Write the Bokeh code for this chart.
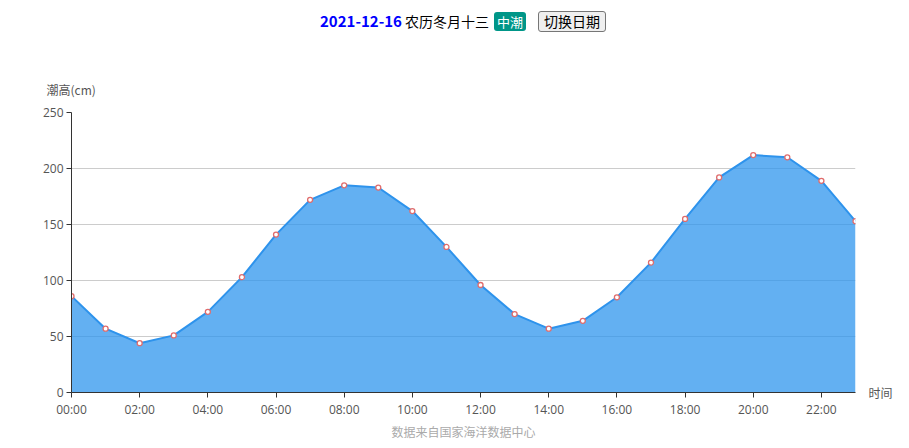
from bokeh.plotting import figure
from bokeh.models import FixedTicker, ColumnDataSource, Range1d, Title, LinearAxis, Div
from bokeh.layouts import column
from bokeh.embed import file_html
from bokeh.resources import INLINE

hours = list(range(24))
tide = [86, 57, 44, 51, 72, 103, 141, 172, 185, 183, 162, 130,
        96, 70, 57, 64, 85, 116, 155, 192, 212, 210, 189, 153]
tick_hours = list(range(0, 24, 2))
tick_labels = {h: f"{h:02d}:00" for h in tick_hours}
y_ticks = [0, 50, 100, 150, 200, 250]

date_text = "2021-12-16"
lunar_text = "农历冬月十三"
tide_type = "中潮"
button_text = "切换日期"
y_name = "潮高(cm)"
x_name = "时间"
source_text = "数据来自国家海洋数据中心"

FONT = "Noto Sans CJK SC"

header_html = f"""
<div style="position:relative;width:909px;height:40px;font-family:'{FONT}';">
  <span style="position:absolute;left:320px;top:11px;line-height:20px;font-size:15px;font-weight:bold;color:#0000ff;white-space:nowrap;">{date_text}</span>
  <span style="position:absolute;left:405px;top:11px;line-height:20px;font-size:14px;color:#000;white-space:nowrap;">{lunar_text}</span>
  <span style="position:absolute;left:494px;top:12px;width:32px;height:19px;line-height:19px;text-align:center;background:#009688;color:#fff;font-size:13px;border-radius:3px;white-space:nowrap;">{tide_type}</span>
  <span style="position:absolute;left:538px;top:11px;width:68px;height:21px;box-sizing:border-box;line-height:19px;text-align:center;background:#efefef;border:1px solid #767676;border-radius:3px;color:#000;font-size:14px;white-space:nowrap;">{button_text}</span>
</div>
"""
header = Div(text=header_html, width=909, height=40, margin=(0, 0, 0, 0))

W, H = 909, 408
left, right, top, bottom = 71, 54, 72, 56
p = figure(width=W, height=H, output_backend="svg", toolbar_location=None,
           x_range=Range1d(0, 23), y_range=Range1d(0, 250),
           min_border_left=left, min_border_right=right,
           min_border_top=top, min_border_bottom=bottom)
p.outline_line_color = None
p.background_fill_color = "white"
p.margin = (0, 0, 0, 0)

src = ColumnDataSource(dict(x=hours, y=tide, y0=[0] * len(hours)))
p.varea(x="x", y1="y0", y2="y", source=src, fill_color="#2f95ee", fill_alpha=0.75)
p.line(x="x", y="y", source=src, line_color="#2e93ec", line_width=2)
p.scatter(x="x", y="y", source=src, size=5, fill_color="white",
          line_color="#e06c6c", line_width=1.3)

p.xgrid.grid_line_color = None
p.ygrid.grid_line_color = "#cccccc"
p.ygrid.ticker = FixedTicker(ticks=y_ticks)

for ax in (p.xaxis[0], p.yaxis[0]):
    ax.axis_line_color = "#333333"
    ax.major_tick_line_color = "#333333"
    ax.major_tick_out = 5
    ax.major_tick_in = 0
    ax.minor_tick_line_color = None
    ax.major_label_text_font = "Open Sans"
    ax.major_label_text_font_size = "12px"
    ax.major_label_text_color = "#555555"
p.xaxis.ticker = FixedTicker(ticks=tick_hours)
p.xaxis.major_label_overrides = tick_labels
p.yaxis.ticker = FixedTicker(ticks=y_ticks)
p.xaxis.major_label_standoff = 3
p.yaxis.major_label_standoff = 3

# x-axis name, drawn as a label of a tick-less right axis at y = 0
name_axis = LinearAxis(ticker=FixedTicker(ticks=[0]), major_label_overrides={0: x_name})
name_axis.axis_line_color = None
name_axis.major_tick_line_color = None
name_axis.minor_tick_line_color = None
name_axis.major_label_standoff = 7
name_axis.major_label_text_font = FONT
name_axis.major_label_text_font_size = "12px"
name_axis.major_label_text_color = "#555555"
p.add_layout(name_axis, "right")

p.add_layout(Title(text=y_name, align="left", offset=-25, text_font=FONT,
                   text_font_size="12px", text_font_style="normal",
                   text_color="#555555", standoff=30), "above")
p.add_layout(Title(text=source_text, align="center", text_font=FONT,
                   text_font_size="12px", text_font_style="normal",
                   text_color="#aaaaaa", standoff=0), "below")

layout = column(header, p, spacing=0)
open("out.html", "w").write(file_html(layout, INLINE))
